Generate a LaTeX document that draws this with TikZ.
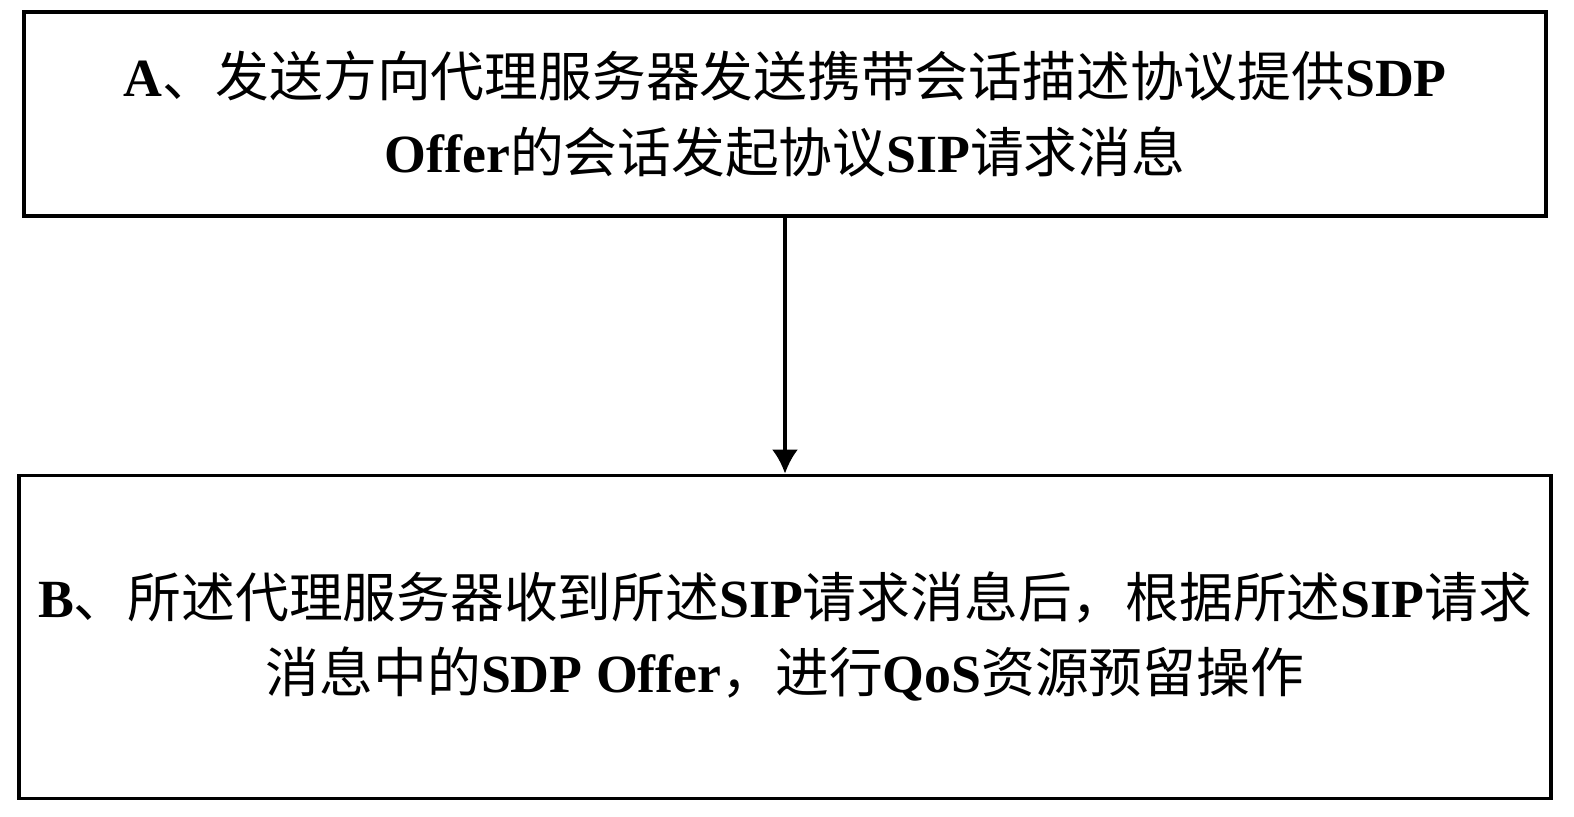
\documentclass[tikz,border=0pt]{standalone}
\usepackage{fontspec}
\setmainfont{Liberation Serif}
\newfontfamily\cjk{Noto Sans CJK SC}
\usetikzlibrary{positioning,arrows.meta}
\newcommand{\zh}[1]{{\cjk\mdseries #1}}

\begin{document}
\begin{tikzpicture}[>=Latex, node distance=5.12cm,
  stepbox/.style={draw, line width=1.8pt, align=center,
                  font=\fontsize{30.6}{43}\selectfont\bfseries}]
  \useasboundingbox (0,0) rectangle (31.48,-16.34);
  \node (send) [stepbox, minimum width=30.44cm, minimum height=4.08cm]
    at (15.7,-2.28)
    {A\zh{、发送方向代理服务器发送携带会话描述协议提供}SDP\\
     Offer\zh{的会话发起协议}SIP\zh{请求消息}};
  \node (reserve) [stepbox, minimum width=30.64cm, minimum height=6.46cm,
                   below=of send]
    {B\zh{、所述代理服务器收到所述}SIP\zh{请求消息后，根据所述}SIP\zh{请求}\\
     \zh{消息中的}SDP Offer\zh{，进行}QoS\zh{资源预留操作}};

  \draw[->, line width=1.8pt, >={Latex[length=4.8mm, width=5.2mm]}]
    (send) -- (reserve);
\end{tikzpicture}
\end{document}
